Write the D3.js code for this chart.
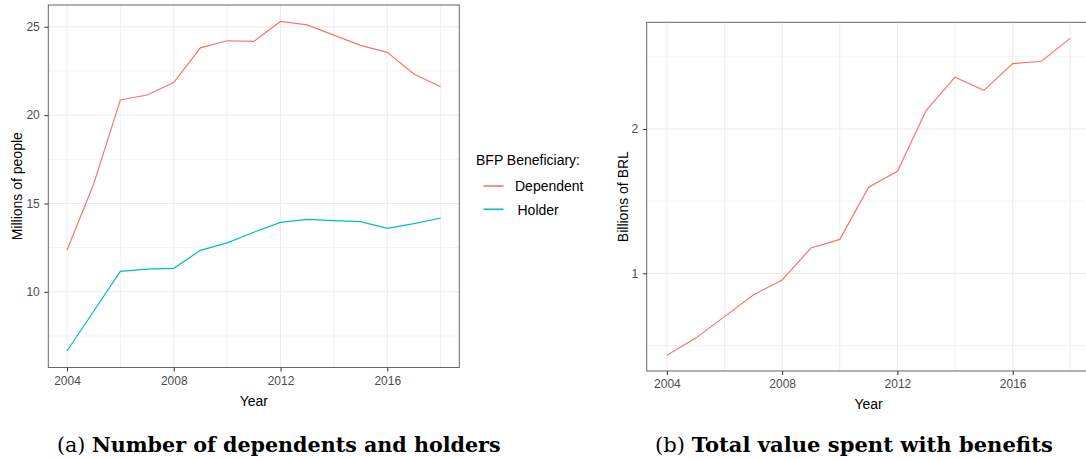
<!DOCTYPE html>
<html>
<head>
<meta charset="utf-8">
<script src="https://cdn.jsdelivr.net/npm/d3@7/dist/d3.min.js"></script>
<style>
  body { margin: 0; background: #fff; }
  svg { display: block; }
  text { font-family: "Liberation Sans", Arial, Helvetica, sans-serif; }
</style>
</head>
<body>
<svg width="1086" height="459"></svg>
<script>
// ---- data ----
var years = [2004, 2005, 2006, 2007, 2008, 2009, 2010, 2011, 2012, 2013, 2014, 2015, 2016, 2017, 2018];
var dependents = [12.35, 16.1, 20.86, 21.14, 21.84, 23.81, 24.21, 24.17, 25.3, 25.11, 24.53, 23.95, 23.55, 22.33, 21.61];
var holders = [6.65, 8.9, 11.16, 11.28, 11.33, 12.35, 12.77, 13.37, 13.93, 14.1, 14.03, 13.97, 13.59, 13.86, 14.18];
var spending = [0.433, 0.551, 0.70, 0.85, 0.954, 1.175, 1.235, 1.596, 1.707, 2.129, 2.359, 2.267, 2.453, 2.469, 2.629];

var xTicks = [2004, 2008, 2012, 2016];
var xMinor = [2006, 2010, 2014, 2018];
var peopleTicks = [10, 15, 20, 25];
var peopleMinor = [7.5, 12.5, 17.5, 22.5];
var brlTicks = [1, 2];
var brlMinor = [0.5, 1.5, 2.5];

var seriesNames = ["Dependent", "Holder"];
var seriesColors = ["#F8766D", "#00BFC4"];

var svg = d3.select("svg");

// ggplot style 5% expansion
function expand(ext) {
  var pad = (ext[1] - ext[0]) * 0.05;
  return [ext[0] - pad, ext[1] + pad];
}

function drawPanel(cfg) {
  var g = svg.append("g");
  var x = d3.scaleLinear().domain(expand(d3.extent(years))).range([cfg.left, cfg.right]);
  var allVals = d3.merge(cfg.series.map(function(s) { return s.values; }));
  var y = d3.scaleLinear().domain(expand(d3.extent(allVals))).range([cfg.bottom, cfg.top]);

  g.append("rect")
    .attr("x", cfg.left).attr("y", cfg.top)
    .attr("width", cfg.right - cfg.left).attr("height", cfg.bottom - cfg.top)
    .attr("fill", "#fff");

  // grid
  var grid = g.append("g");
  grid.selectAll(".hmin").data(cfg.yMinor).enter().append("line")
    .attr("x1", cfg.left).attr("x2", cfg.right)
    .attr("y1", function(d) { return y(d); }).attr("y2", function(d) { return y(d); })
    .attr("stroke", "#f3f3f3").attr("stroke-width", 1);
  grid.selectAll(".vmin").data(xMinor).enter().append("line")
    .attr("y1", cfg.top).attr("y2", cfg.bottom)
    .attr("x1", function(d) { return x(d); }).attr("x2", function(d) { return x(d); })
    .attr("stroke", "#f0f0f0").attr("stroke-width", 1);
  grid.selectAll(".hmaj").data(cfg.yTicks).enter().append("line")
    .attr("x1", cfg.left).attr("x2", cfg.right)
    .attr("y1", function(d) { return y(d); }).attr("y2", function(d) { return y(d); })
    .attr("stroke", "#ebebeb").attr("stroke-width", 1);
  grid.selectAll(".vmaj").data(xTicks).enter().append("line")
    .attr("y1", cfg.top).attr("y2", cfg.bottom)
    .attr("x1", function(d) { return x(d); }).attr("x2", function(d) { return x(d); })
    .attr("stroke", "#ebebeb").attr("stroke-width", 1);

  // lines
  var line = d3.line()
    .x(function(d, i) { return x(years[i]); })
    .y(function(d) { return y(d); });
  cfg.series.forEach(function(s) {
    g.append("path")
      .datum(s.values)
      .attr("d", line)
      .attr("fill", "none")
      .attr("stroke", s.color)
      .attr("stroke-width", 1.2);
  });

  // border
  g.append("rect")
    .attr("x", cfg.left).attr("y", cfg.top)
    .attr("width", cfg.right - cfg.left).attr("height", cfg.bottom - cfg.top)
    .attr("fill", "none").attr("stroke", "#666").attr("stroke-width", 1);

  // axes
  var xa = g.append("g")
    .attr("transform", "translate(0," + cfg.bottom + ")")
    .call(d3.axisBottom(x).tickValues(xTicks).tickFormat(d3.format("d")).tickSize(4).tickPadding(4.5));
  var ya = g.append("g")
    .attr("transform", "translate(" + cfg.left + ",0)")
    .call(d3.axisLeft(y).tickValues(cfg.yTicks).tickFormat(d3.format("d")).tickSize(4).tickPadding(4.5));
  [xa, ya].forEach(function(a) {
    a.select(".domain").remove();
    a.selectAll(".tick line").attr("stroke", "#333");
    a.selectAll(".tick text").attr("fill", "#4d4d4d")
      .style("font-size", "12px").style("font-family", "'Liberation Sans', Arial, sans-serif");
  });

  // titles
  g.append("text")
    .attr("x", (cfg.left + cfg.xTitleRight) / 2).attr("y", cfg.bottom + 38)
    .attr("text-anchor", "middle").style("font-size", "14px")
    .text("Year");
  g.append("text")
    .attr("transform", "translate(" + cfg.yTitleX + "," + ((cfg.top + cfg.bottom) / 2) + ") rotate(-90)")
    .attr("text-anchor", "middle").style("font-size", "14px")
    .text(cfg.yTitle);
}

drawPanel({
  left: 48.3, right: 459.3, top: 5, bottom: 367.5, xTitleRight: 459.3,
  series: [
    { values: dependents, color: seriesColors[0] },
    { values: holders, color: seriesColors[1] }
  ],
  yTicks: peopleTicks, yMinor: peopleMinor,
  yTitle: "Millions of people", yTitleX: 21.5
});

drawPanel({
  left: 646.7, right: 1090.5, top: 22.3, bottom: 371, xTitleRight: 1090.5,
  series: [ { values: spending, color: seriesColors[0] } ],
  yTicks: brlTicks, yMinor: brlMinor,
  yTitle: "Billions of BRL", yTitleX: 627.5
});

// legend
var legend = svg.append("g").attr("transform", "translate(476,0)");
legend.append("text").attr("x", 0).attr("y", 165).style("font-size", "14px").text("BFP Beneficiary:");
var items = legend.selectAll(".item").data(seriesNames).enter().append("g")
  .attr("transform", function(d, i) { return "translate(0," + (186 + i * 23.3) + ")"; });
items.append("line")
  .attr("x1", 7.5).attr("x2", 27.5).attr("y1", 0).attr("y2", 0)
  .attr("stroke", function(d, i) { return seriesColors[i]; })
  .attr("stroke-width", 1.6);
items.append("text")
  .attr("x", function(d, i) { return i === 0 ? 39 : 41.5; }).attr("y", 5.2)
  .style("font-size", "14px").text(function(d) { return d; });

// captions
var captions = [
  { tag: "(a)", label: "Number of dependents and holders", x: 57, width: 444 },
  { tag: "(b)", label: "Total value spent with benefits", x: 655, width: 398 }
];
captions.forEach(function(c) {
  var t = svg.append("text")
    .attr("x", c.x).attr("y", 451.5)
    .style("font-family", "'DejaVu Serif', 'Liberation Serif', serif")
    .style("font-size", "18px");
  t.append("tspan").text(c.tag + " ");
  t.append("tspan").attr("font-weight", "bold").text(c.label);
  var w = t.node().getComputedTextLength();
  t.style("font-size", (18 * c.width / w) + "px");
});
</script>
</body>
</html>
